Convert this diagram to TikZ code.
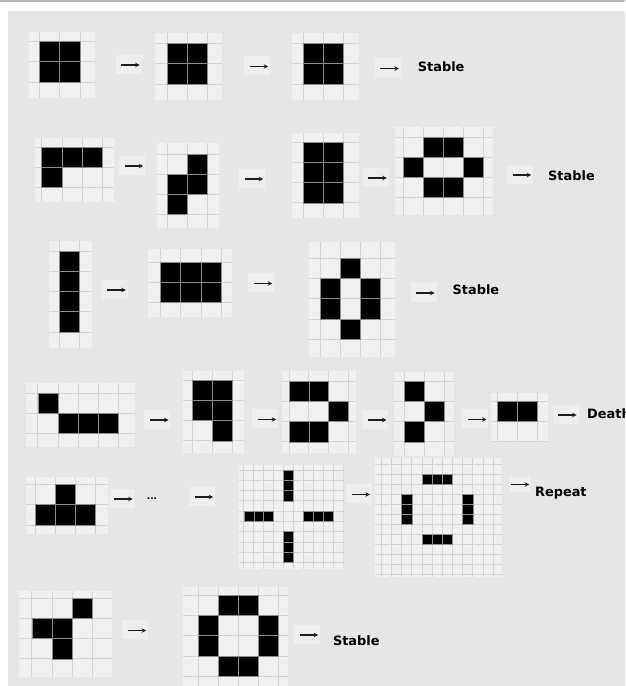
\documentclass[tikz,border=0pt]{standalone}
\usepackage{fontspec}
\newfontfamily\lblfont{DejaVu Sans}
\usetikzlibrary{arrows.meta}
\definecolor{panel}{HTML}{E6E6E6}
\definecolor{cellbg}{HTML}{F0F0F0}
\definecolor{gridcol}{HTML}{D4D4D4}
\definecolor{aliveedge}{HTML}{8C8C8C}
\definecolor{boxbg}{HTML}{EEEEEE}
\definecolor{topline}{HTML}{B8B8B8}
\definecolor{arrowcol}{HTML}{1E1E1E}
\tikzset{
  gridbg/.style={fill=cellbg, draw=none, inner sep=0pt, outer sep=0pt},
  gridline/.style={draw=gridcol, line width=1pt},
  alivecell/.style={fill=black, draw=aliveedge, line width=0.7pt},
  arrowbox/.style={fill=boxbg, draw=none, inner sep=0pt, minimum width=26pt, minimum height=19pt},
  lifearrow/.style={draw=arrowcol, line width=1.1pt, -{Stealth[length=4.5pt,width=4.5pt]}},
  lbl/.style={font=\lblfont\bfseries\fontsize{12.9}{14}\selectfont, inner sep=0pt, anchor=west}
}
% name, left, top, right, bottom, x0, y0, w, h
\newcommand\lifegrid[9]{%
  \node[gridbg, anchor=north west, minimum width={#4-#2}, minimum height={#5-#3}] (#1) at (#2,#3) {};
  \begin{scope}
    \clip (#1.north west) rectangle (#1.south east);
    \foreach \k in {-3,...,14} {
      \draw[gridline] ({#6+\k*#8},#3) -- ({#6+\k*#8},#5);
      \draw[gridline] (#2,{#7+\k*#9}) -- (#4,{#7+\k*#9});
    }
  \end{scope}
  \def\LGx{#6}\def\LGy{#7}\def\LGw{#8}\def\LGh{#9}%
}
\newcommand\lifecells[1]{\foreach \i/\j in {#1} \draw[alivecell] ({\LGx+\i*\LGw},{\LGy+\j*\LGh}) rectangle ++(\LGw,\LGh);}
\newcommand\lifearrowbox[3]{%
  \node[arrowbox] (#1) at (#2,#3) {};
  \draw[lifearrow] ([xshift=6pt,yshift=-1pt]#1.west) -- ([xshift=-2pt,yshift=-1pt]#1.east);
}
\begin{document}
\begin{tikzpicture}[x=1pt,y=-1pt]
\useasboundingbox (0,0) rectangle (625,686);
\fill[white] (0,0) rectangle (625,686);
\fill[topline] (0,0) rectangle (625,1.5);
\fill[panel] (7.5,11) rectangle (625,686);

% Row 1
\lifegrid{g1}{28.7}{32}{94.5}{98}{39.1}{41}{20.5}{20.5}
\lifecells{0/0,1/0,0/1,1/1}
\lifegrid{g2}{155.4}{33}{222}{100}{167.4}{43}{20}{20.5}
\lifecells{0/0,1/0,0/1,1/1}
\lifegrid{g3}{292.2}{33}{358.7}{100}{303.7}{43}{20}{20.5}
\lifecells{0/0,1/0,0/1,1/1}
\lifearrowbox{a1}{128.5}{64}
\lifearrowbox{a2}{257}{65.5}
\lifearrowbox{a3}{387.6}{67.5}
\node[lbl] (s1) at (417.7,67) {Stable};

% Row 2
\lifegrid{g4}{35.1}{138}{113.6}{202}{41.8}{147}{20.3}{20}
\lifecells{0/0,1/0,2/0,0/1}
\lifegrid{g5}{157.4}{143}{219.2}{228}{167.4}{154}{20}{20}
\lifecells{1/0,0/1,1/1,0/2}
\lifegrid{g6}{292.2}{133}{358.7}{218}{303.7}{142}{20}{20.3}
\lifecells{0/0,1/0,0/1,1/1,0/2,1/2}
\lifegrid{g7}{394.6}{127}{493.4}{215}{403.4}{137}{20}{20}
\lifecells{1/0,2/0,0/1,3/1,1/2,2/2}
\lifearrowbox{a4}{132}{165}
\lifearrowbox{a5}{252}{178}
\lifearrowbox{a6}{375.6}{177}
\lifearrowbox{a7}{520}{174}
\node[lbl] (s2) at (548,176) {Stable};

% Row 3
\lifegrid{g8}{48.6}{241}{91.7}{348}{59.8}{251}{20}{20.25}
\lifecells{0/0,0/1,0/2,0/3}
\lifegrid{g9}{148.3}{249}{232.4}{317}{160.6}{262}{20.2}{20}
\lifecells{0/0,1/0,2/0,0/1,1/1,2/1}
\lifegrid{g10}{308.9}{242}{395.4}{357}{320}{258}{20.2}{20.4}
\lifecells{1/0,0/1,2/1,0/2,2/2,1/3}
\lifearrowbox{a8}{114.6}{289}
\lifearrowbox{a9}{261}{282.5}
\lifearrowbox{a10}{423.5}{292}
\node[lbl] (s3) at (452.4,290) {Stable};

% Row 4
\lifegrid{g11}{25.9}{383}{134.7}{447}{37.9}{393}{20.1}{20}
\lifecells{0/0,1/1,2/1,3/1}
\lifegrid{g12}{182.5}{371}{243.9}{453}{192.1}{380}{20}{20.3}
\lifecells{0/0,1/0,0/1,1/1,1/2}
\lifegrid{g13}{282.2}{371}{355.5}{453}{289}{381}{19.9}{20.3}
\lifecells{0/0,1/0,2/1,0/2,1/2}
\lifegrid{g14}{393.8}{372}{454.4}{456}{404.5}{381}{20}{20.3}
\lifecells{0/0,1/1,0/2}
\lifegrid{g15}{491}{393}{548}{442}{497.4}{401}{20}{20}
\lifecells{0/0,1/0}
\lifearrowbox{a11}{157.4}{419}
\lifearrowbox{a12}{265}{418.5}
\lifearrowbox{a13}{375.3}{419}
\lifearrowbox{a14}{475.3}{418.5}
\lifearrowbox{a15}{565.5}{414}
\node[lbl] (s4) at (587,414) {Death};

% Row 5
\lifegrid{g16}{25.9}{477}{108.4}{534}{35.1}{484}{20}{20.5}
\lifecells{1/0,0/1,1/1,2/1}
\lifegrid{g17}{239.1}{465}{343.6}{569}{243.9}{470}{9.97}{10.3}
\lifecells{4/0,4/1,4/2,0/4,1/4,2/4,6/4,7/4,8/4,4/6,4/7,4/8}
\lifegrid{g18}{374.7}{458}{502.2}{577}{401.8}{474.3}{10.16}{10}
\lifecells{2/0,3/0,4/0,0/2,0/3,0/4,6/2,6/3,6/4,2/6,3/6,4/6}
\lifearrowbox{a16}{121.5}{498}
\node[lbl, font=\lblfont\bfseries\fontsize{9}{10}\selectfont] (dots) at (146.7,499) {...};
\lifearrowbox{a17}{202}{496}
\lifearrowbox{a18}{358.7}{493.5}
\node[arrowbox, minimum width=20pt, minimum height=15pt] (a19) at (520,484.5) {};
\draw[lifearrow] ([xshift=1pt]a19.west) -- ([xshift=-1pt]a19.east);
\node[lbl] (s5) at (534.9,493) {Repeat};

% Row 6
\lifegrid{g19}{19.1}{591}{112.4}{677}{31.9}{598}{20.3}{20.3}
\lifecells{2/0,0/1,1/1,1/2}
\lifegrid{g20}{182.5}{587}{287.8}{690}{198.1}{595}{20}{20.4}
\lifecells{1/0,2/0,0/1,3/1,0/2,3/2,1/3,2/3}
\lifearrowbox{a20}{135}{629.5}
\lifearrowbox{a21}{307}{634}
\node[lbl] (s6) at (332.8,641) {Stable};
\end{tikzpicture}
\end{document}
